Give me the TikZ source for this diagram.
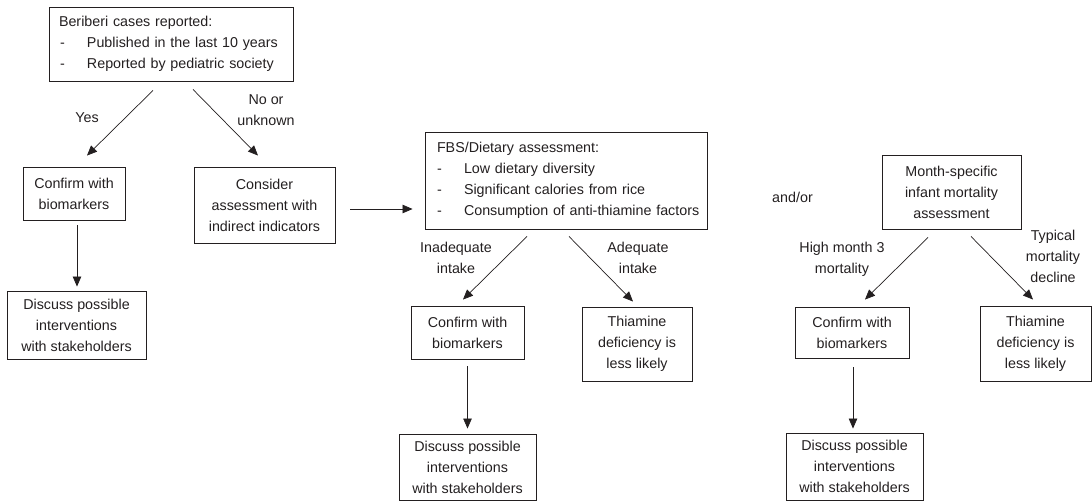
\documentclass[tikz,border=0pt]{standalone}
\usepackage{fontspec}
\setmainfont{Liberation Sans}
\usetikzlibrary{arrows.meta,calc}
\definecolor{ink}{HTML}{231F20}
\newcommand\bitem[1]{\mbox{\makebox[28pt][l]{\hspace{1pt}-}#1}}
\newcommand\fitem[1]{\mbox{\makebox[30pt][l]{\hspace{3pt}-}#1}}
\begin{document}
\begin{tikzpicture}[x=1pt,y=-1pt,
  every node/.style={font=\fontsize{14.3}{21}\selectfont, text=ink},
  box/.style={draw=ink, line width=0.9pt, inner sep=0pt, align=center},
  listbox/.style={draw=ink, line width=0.9pt, inner xsep=10pt, inner ysep=0pt, align=left},
  lbl/.style={align=center, inner sep=0pt},
  arr/.style={draw=ink, line width=0.7pt, -{Triangle[length=10pt,width=8.5pt]}}]
\useasboundingbox (0,0) rectangle (1092,502);

% boxes
\node[listbox, minimum width=244pt, minimum height=74pt, text width=224pt] (B1) at (171,44)
  {Beriberi cases reported:\\ \bitem{Published in the last 10 years}\\ \bitem{Reported by pediatric society}};
\node[box, minimum width=102pt, minimum height=53pt] (C1) at (74,193.5) {Confirm with\\biomarkers};
\node[box, minimum width=141pt, minimum height=76pt] (K) at (264.5,205) {Consider\\assessment with\\indirect indicators};
\node[box, minimum width=139pt, minimum height=68pt] (D1) at (76.5,325) {Discuss possible\\interventions\\with stakeholders};

\node[listbox, minimum width=282pt, minimum height=97pt, text width=264pt, inner xsep=9pt] (F) at (566,180.5)
  {\hspace{3pt}FBS/Dietary assessment:\\ \fitem{Low dietary diversity}\\ \fitem{Significant calories from rice}\\ \fitem{Consumption of anti-thiamine factors}};
\node[box, minimum width=113pt, minimum height=53pt] (C2) at (467.5,332.5) {Confirm with\\biomarkers};
\node[box, minimum width=110pt, minimum height=74pt] (T2) at (637,344) {Thiamine\\deficiency is\\less likely};
\node[box, minimum width=137pt, minimum height=66pt] (D2) at (467.5,467) {Discuss possible\\interventions\\with stakeholders};

\node[box, minimum width=139pt, minimum height=74pt] (M) at (951.5,192) {Month-specific\\infant mortality\\assessment};
\node[box, minimum width=114pt, minimum height=51pt] (C3) at (852,332.5) {Confirm with\\biomarkers};
\node[box, minimum width=111pt, minimum height=75pt] (T3) at (1035.5,343.5) {Thiamine\\deficiency is\\less likely};
\node[box, minimum width=137pt, minimum height=67pt] (D3) at (854.5,466.5) {Discuss possible\\interventions\\with stakeholders};

% labels
\node[lbl] (lyes) at (87,118) {Yes};
\node[lbl] (lno) at (266,110) {No or\\unknown};
\node[lbl] (linad) at (456,257.5) {Inadequate\\intake};
\node[lbl] (lad) at (638,257.5) {Adequate\\intake};
\node[lbl] (lhigh) at (842,259.5) {High month 3\\mortality};
\node[lbl] (ltyp) at (1053,256.5) {Typical\\mortality\\decline};
\node[lbl] (andor) at (792.5,197) {and/or};

% connectors
\draw[arr] ($(B1.south)+(-18,9)$) -- ($(C1.north)+(13,-11)$);
\draw[arr] ($(B1.south)+(22,8)$) -- ($(K.north)+(-6.5,-11)$);
\draw[arr, shorten <=5pt, shorten >=4pt] ($(C1.south)+(3,0)$) -- ($(D1.north)+(0.5,0)$);
\draw[arr] ($(K.east)+(15,4)$) -- ($(K.east -| F.west)+(-12,4)$);

\draw[arr] ($(F.south)+(-39,7)$) -- ($(C2.north)+(-4.5,-6)$);
\draw[arr] ($(F.south)+(3,7)$) -- ($(T2.north)+(-4,-5)$);
\draw[arr, shorten <=7pt, shorten >=5pt] (C2.south) -- (D2.north);

\draw[arr] ($(M.south)+(-23.5,8)$) -- ($(C3.north)+(13,-7)$);
\draw[arr] ($(M.south)+(19.5,7)$) -- ($(T3.north)+(-2.5,-6)$);
\draw[arr, shorten <=9pt, shorten >=4pt] ($(C3.south)+(1,0)$) -- ($(D3.north)+(-1.5,0)$);
\end{tikzpicture}
\end{document}
